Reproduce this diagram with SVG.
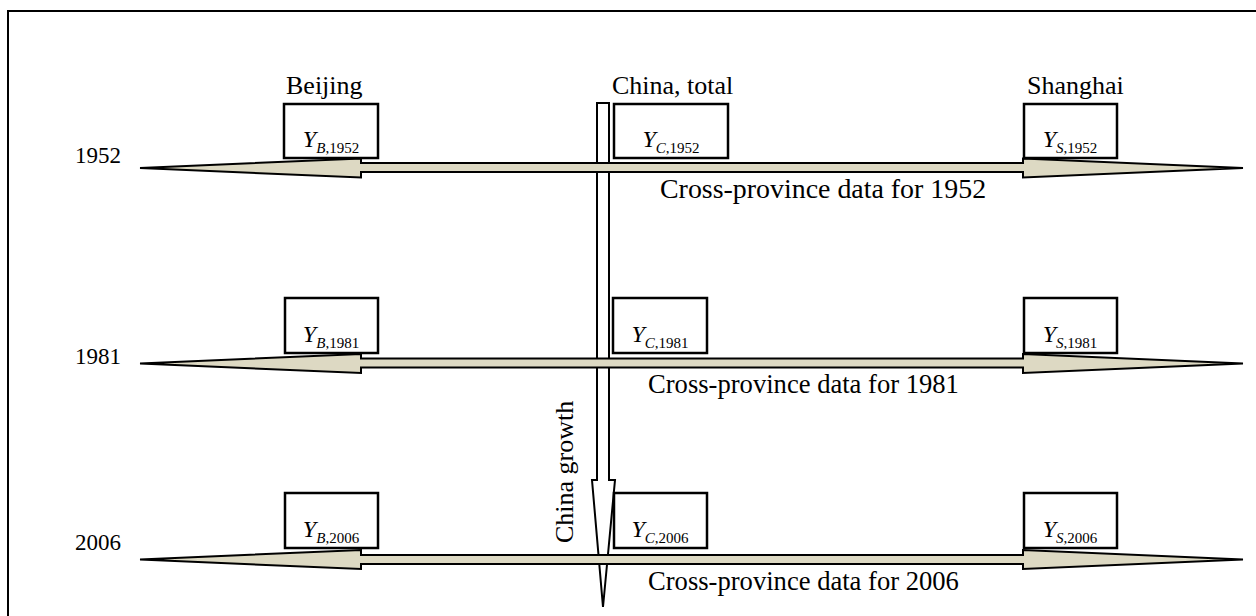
<svg xmlns="http://www.w3.org/2000/svg" width="1256" height="616" viewBox="0 0 1256 616">
<style>
  .lbl { font-family: "Liberation Serif", "Times New Roman", serif; font-size: 26px; fill: #000; }
  .yr { font-family: "Liberation Serif", "Times New Roman", serif; font-size: 23px; fill: #000; }
  .box { fill: #fff; stroke: #000; stroke-width: 2.5; }
  .harrow { fill: #ddd9c3; stroke: #000; stroke-width: 2; stroke-linejoin: miter; }
  .varrow { fill: #fff; stroke: #000; stroke-width: 2; }
  .ym { font-family: "Liberation Serif", "Times New Roman", serif; fill: #000; text-anchor: middle; }
  .yv { font-style: italic; font-size: 24px; }
  .ys { font-size: 15px; }
</style>
<rect x="0" y="0" width="1256" height="616" fill="#fff"/>
<path d="M8,618 V11 H1258" fill="none" stroke="#000" stroke-width="2"/>

<g id="labels">
  <text class="lbl" x="286" y="94">Beijing</text>
  <text class="lbl" x="612" y="94">China, total</text>
  <text class="lbl" x="1027" y="94">Shanghai</text>
  <text class="yr" x="75" y="163">1952</text>
  <text class="yr" x="75" y="364">1981</text>
  <text class="yr" x="75" y="550">2006</text>
</g>

<g id="china-growth">
  <polygon class="varrow" points="597,103 609,103 609,480 615,480 603,607 592,480 597,480"/>
  <text class="lbl" transform="translate(573,543) rotate(-90)">China growth</text>
</g>

<g id="connectors">
  <polygon class="harrow" points="140,168 361,158.5 361,163 1023,163 1023,158.5 1243,168 1023,177.5 1023,172 361,172 361,177.5"/>
  <polygon class="harrow" points="140,363.5 361,354 361,358.5 1023,358.5 1023,354 1243,363.5 1023,373 1023,367.5 361,367.5 361,373"/>
  <polygon class="harrow" points="140,559.5 361,550 361,555 1023,555 1023,550 1243,559.5 1023,569 1023,564 361,564 361,569"/>
</g>

<g id="row-text">
  <text class="lbl" x="660" y="198" style="font-size:27.9px">Cross-province data for 1952</text>
  <text class="lbl" x="648" y="393" style="font-size:26.6px">Cross-province data for 1981</text>
  <text class="lbl" x="648" y="590" style="font-size:26.6px">Cross-province data for 2006</text>
</g>

<g id="node-B1952"><rect class="box" x="284" y="104" width="94" height="54"/>
  <text class="ym" x="331" y="147"><tspan class="yv">Y</tspan><tspan class="ys" dy="6"><tspan font-style="italic">B</tspan>,1952</tspan></text></g>
<g id="node-C1952"><rect class="box" x="614" y="104" width="114" height="54"/>
  <text class="ym" x="671" y="147"><tspan class="yv">Y</tspan><tspan class="ys" dy="6"><tspan font-style="italic">C</tspan>,1952</tspan></text></g>
<g id="node-S1952"><rect class="box" x="1024" y="104" width="93" height="54"/>
  <text class="ym" x="1070" y="147"><tspan class="yv">Y</tspan><tspan class="ys" dy="6"><tspan font-style="italic">S</tspan>,1952</tspan></text></g>

<g id="node-B1981"><rect class="box" x="285" y="298" width="93" height="55"/>
  <text class="ym" x="331" y="342"><tspan class="yv">Y</tspan><tspan class="ys" dy="6"><tspan font-style="italic">B</tspan>,1981</tspan></text></g>
<g id="node-C1981"><rect class="box" x="613" y="298" width="94" height="55"/>
  <text class="ym" x="660" y="342"><tspan class="yv">Y</tspan><tspan class="ys" dy="6"><tspan font-style="italic">C</tspan>,1981</tspan></text></g>
<g id="node-S1981"><rect class="box" x="1024" y="298" width="93" height="55"/>
  <text class="ym" x="1070" y="342"><tspan class="yv">Y</tspan><tspan class="ys" dy="6"><tspan font-style="italic">S</tspan>,1981</tspan></text></g>

<g id="node-B2006"><rect class="box" x="285" y="493" width="93" height="55"/>
  <text class="ym" x="331" y="537"><tspan class="yv">Y</tspan><tspan class="ys" dy="6"><tspan font-style="italic">B</tspan>,2006</tspan></text></g>
<g id="node-C2006"><rect class="box" x="614" y="493" width="93" height="55"/>
  <text class="ym" x="660" y="537"><tspan class="yv">Y</tspan><tspan class="ys" dy="6"><tspan font-style="italic">C</tspan>,2006</tspan></text></g>
<g id="node-S2006"><rect class="box" x="1024" y="493" width="93" height="55"/>
  <text class="ym" x="1070" y="537"><tspan class="yv">Y</tspan><tspan class="ys" dy="6"><tspan font-style="italic">S</tspan>,2006</tspan></text></g>
</svg>
